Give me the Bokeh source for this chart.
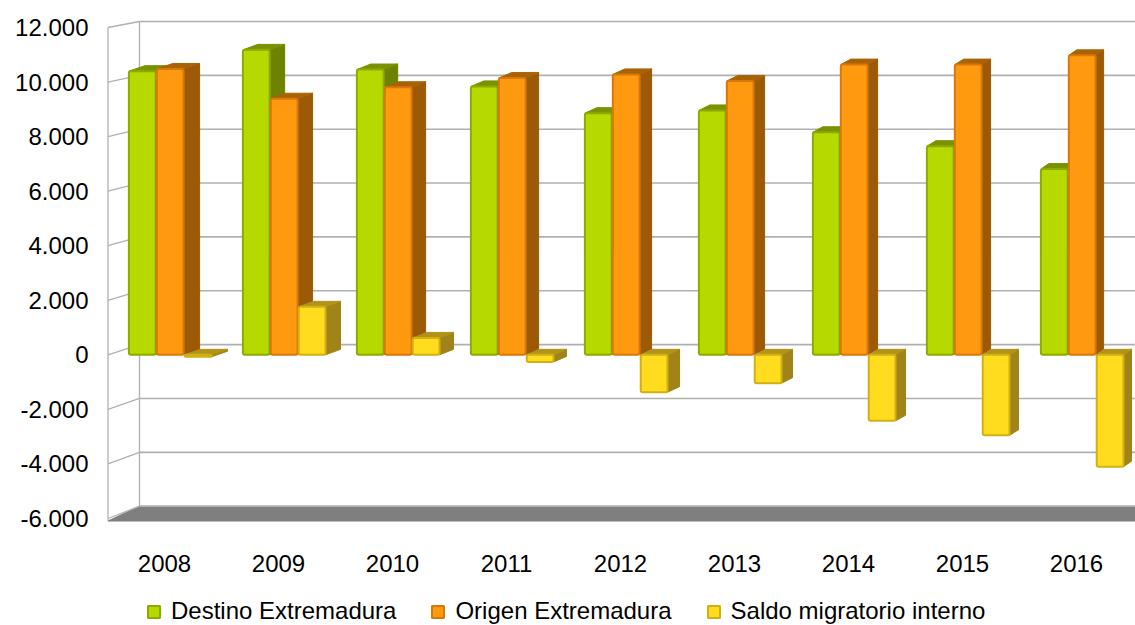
from bokeh.plotting import figure
from bokeh.models import FixedTicker, Legend, LegendItem
from bokeh.core.properties import value
from bokeh.embed import file_html
from bokeh.resources import INLINE

# ---- data ----
years = ["2008", "2009", "2010", "2011", "2012", "2013", "2014", "2015", "2016"]
destino = [10400, 11180, 10460, 9840, 8860, 8960, 8160, 7650, 6810]
origen = [10480, 9390, 9810, 10150, 10280, 10040, 10640, 10640, 10980]
saldo = [-70, 1760, 620, -260, -1370, -1040, -2420, -2950, -4100]
series_names = ["Destino Extremadura", "Origen Extremadura", "Saldo migratorio interno"]
y_ticks = [-6000, -4000, -2000, 0, 2000, 4000, 6000, 8000, 10000, 12000]

# ---- style / geometry (page pixel helpers) ----
FONT = "Liberation Sans"
K = 491.0 / 18000.0          # px per value unit (front plane)
PX = 114.0                   # px per category
R = (505.7 - 21.0) / 491.0   # back wall scale ratio
WIDTH, HEIGHT = 1135, 625
FRAME_L, FRAME_T = 106, 15


def xpix(page_x):
    return (page_x - 164.0) / PX


def vpix(page_y):
    return 12000 - (page_y - 27.0) / K


def vback(v):
    return 12000 + 6.0 / K - (12000 - v) * R


x_fl, x_bl, x_end = xpix(107.5), xpix(139), xpix(1145)
x_start, x_stop = xpix(FRAME_L), xpix(WIDTH)
y_stop = vpix(FRAME_T)
y_start = vpix(HEIGHT)

p = figure(width=WIDTH, height=HEIGHT, output_backend="svg", toolbar_location=None,
           x_range=(x_start, x_stop), y_range=(y_start, y_stop),
           x_axis_location=None,
           min_border_left=FRAME_L, min_border_right=0, min_border_top=FRAME_T, min_border_bottom=0)
p.outline_line_color = None
p.xgrid.visible = False
p.ygrid.visible = False
p.background_fill_color = "white"
p.border_fill_color = "white"

# y axis
p.yaxis.ticker = FixedTicker(ticks=y_ticks)
p.yaxis.major_label_overrides = {v: f"{v:,}".replace(",", ".") for v in y_ticks}
p.yaxis.axis_line_color = None
p.yaxis.major_tick_line_color = None
p.yaxis.minor_tick_line_color = None
p.yaxis.major_tick_out = 0
p.yaxis.major_tick_in = 0
p.yaxis.major_label_text_font = FONT
p.yaxis.major_label_text_font_size = "24px"
p.yaxis.major_label_text_color = "black"
p.yaxis.major_label_standoff = 18

GRID = "#B0B0B0"
# floor slab
fl_front = vpix(520.5)
p.patch([x_fl, x_bl, x_end, x_end], [fl_front, vback(-6000), vback(-6000), fl_front],
        fill_color="#7F7F7F", line_color="#7F7F7F", line_width=1)
# back wall horizontal grid lines
p.segment(x0=[x_bl] * len(y_ticks), y0=[vback(v) for v in y_ticks],
          x1=[x_end] * len(y_ticks), y1=[vback(v) for v in y_ticks],
          line_color=GRID, line_width=1.6)
# left wall slanted lines
p.segment(x0=[x_fl] * len(y_ticks), y0=y_ticks,
          x1=[x_bl] * len(y_ticks), y1=[vback(v) for v in y_ticks],
          line_color=GRID, line_width=1.3)
# wall edges
p.segment(x0=[x_fl, x_bl], y0=[12000, vback(12000)], x1=[x_fl, x_bl], y1=[fl_front, vback(-6000)],
          line_color=GRID, line_width=1.3)

# category labels
p.text(x=list(range(len(years))), y=[vpix(563)] * len(years), text=years,
       text_font=value(FONT), text_font_size="24px", text_color="black",
       text_align="center", text_baseline="alphabetic")

# ---- 3D bars ----
offsets = [-0.195, 0.05, 0.295]
W = 0.235
DY = 5.5 / K
front_cols = ["#B6D900", "#FF9A10", "#FFDC1E"]
edge_cols = ["#8CAA00", "#D9780A", "#D2B014"]
side_cols = ["#6C8200", "#9C5A06", "#A08418"]
top_cols = ["#7A9200", "#A96306", "#B09318"]
all_vals = [destino, origen, saldo]

sides, tops = [], []
for s, vals in enumerate(all_vals):
    sx, sy, tx, ty = [], [], [], []
    for i, v in enumerate(vals):
        dx = (16.0 - i) / PX
        c = i + offsets[s]
        xl, xr = c - W / 2, c + W / 2
        lo, hi = min(0, v), max(0, v)
        sx.append([xr, xr + dx, xr + dx, xr])
        sy.append([lo, lo + DY, hi + DY, hi])
        tx.append([xl, xl + dx, xr + dx, xr])
        ty.append([hi, hi + DY, hi + DY, hi])
    sides.append((sx, sy))
    tops.append((tx, ty))

for s in range(3):
    p.patches(sides[s][0], sides[s][1], fill_color=side_cols[s], line_color=side_cols[s], line_width=1)
for s in range(3):
    p.patches(tops[s][0], tops[s][1], fill_color=top_cols[s], line_color=top_cols[s], line_width=1)

fronts = []
for s, vals in enumerate(all_vals):
    xs = [i + offsets[s] for i in range(len(years))]
    r = p.vbar(x=xs, width=W, bottom=0, top=vals, fill_color=front_cols[s],
               line_color=edge_cols[s], line_width=2, border_radius=2)
    fronts.append(r)

legend = Legend(items=[LegendItem(label=series_names[s], renderers=[fronts[s]]) for s in range(3)],
                orientation="horizontal", location=(40, 0), margin=0, padding=1,
                spacing=34, label_standoff=10, glyph_width=15, glyph_height=15,
                label_text_font=FONT, label_text_font_size="24px", label_text_color="black",
                border_line_color=None, background_fill_alpha=0)
p.add_layout(legend)

open("out.html", "w").write(file_html(p, INLINE))
